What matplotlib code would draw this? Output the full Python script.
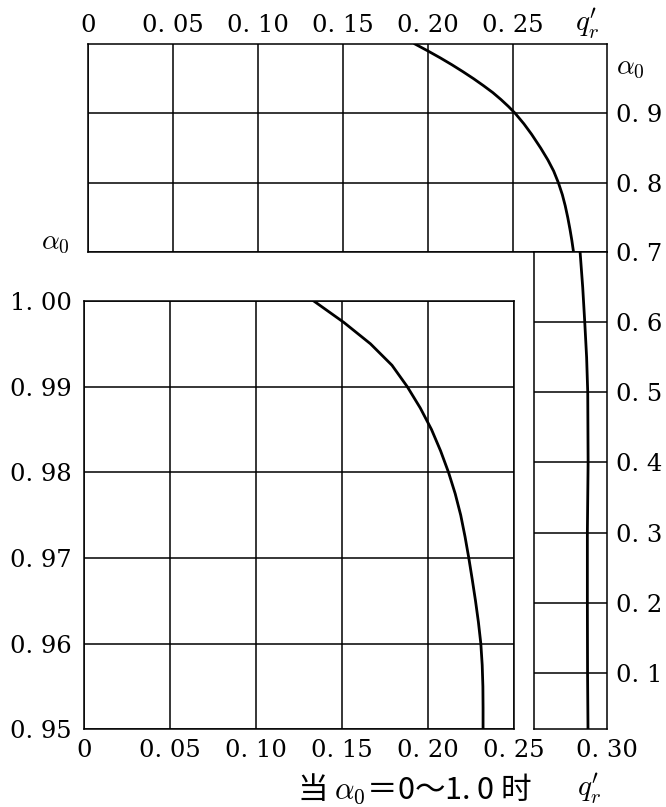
import matplotlib
matplotlib.use("Agg")
import matplotlib.pyplot as plt

plt.rcParams['font.family'] = ['DejaVu Serif', 'Liberation Serif']
plt.rcParams['mathtext.fontset'] = 'cm'

# ---------------- data ----------------
# top panel: alpha0 0.7..1.0
top_alpha = [1.000, 0.990, 0.980, 0.970, 0.960, 0.950, 0.940, 0.930, 0.920, 0.910,
             0.900, 0.885, 0.870, 0.850, 0.833, 0.817, 0.800, 0.783, 0.767, 0.750,
             0.733, 0.717, 0.700]
top_q = [0.1922, 0.1998, 0.2071, 0.2140, 0.2205, 0.2267, 0.2325, 0.2380, 0.2428, 0.2472,
         0.2512, 0.2563, 0.2608, 0.2662, 0.2704, 0.2738, 0.2766, 0.2789, 0.2806, 0.2821,
         0.2834, 0.2845, 0.2855]

# bottom-left panel: alpha0 0.95..1.00
bl_alpha = [1.0000, 0.9975, 0.9950, 0.9925, 0.9900, 0.9875, 0.9850, 0.9825, 0.9800,
            0.9775, 0.9750, 0.9725, 0.9700, 0.9675, 0.9650, 0.9625, 0.9600, 0.9575,
            0.9550, 0.9525, 0.9500]
bl_q = [0.1335, 0.1510, 0.1665, 0.1790, 0.1879, 0.1955, 0.2020, 0.2073, 0.2119,
        0.2158, 0.2190, 0.2215, 0.2237, 0.2257, 0.2276, 0.2293, 0.2307, 0.2315,
        0.2319, 0.2320, 0.2320]

# narrow right panel: alpha0 0..0.7
nr_alpha = [0.70, 0.65, 0.60, 0.55, 0.50, 0.40, 0.30, 0.20, 0.10, 0.00]
nr_q = [0.2857, 0.2871, 0.2882, 0.2892, 0.2898, 0.2900, 0.2896, 0.2896, 0.2897, 0.2900]

top_xticks = [0, 0.05, 0.10, 0.15, 0.20, 0.25]
top_xlabels = ['0', '0. 05', '0. 10', '0. 15', '0. 20', '0. 25']
top_yticks = [0.7, 0.8, 0.9]
top_ylabels = ['0. 7', '0. 8', '0. 9']

bl_xticks = [0, 0.05, 0.10, 0.15, 0.20, 0.25]
bl_xlabels = ['0', '0. 05', '0. 10', '0. 15', '0. 20', '0. 25']
bl_yticks = [0.95, 0.96, 0.97, 0.98, 0.99, 1.00]
bl_ylabels = ['0. 95', '0. 96', '0. 97', '0. 98', '0. 99', '1. 00']

nr_xticks = [0.30]
nr_xlabels = ['0. 30']
nr_yticks = [0.1, 0.2, 0.3, 0.4, 0.5, 0.6]
nr_ylabels = ['0. 1', '0. 2', '0. 3', '0. 4', '0. 5', '0. 6']

# ---------------- layout ----------------
W, H = 666, 807
fig = plt.figure(figsize=(W / 100, H / 100), dpi=100)


def rect(x0, y0, x1, y1):
    return [x0 / W, 1 - y1 / H, (x1 - x0) / W, (y1 - y0) / H]


LW = 1.1
CLW = 2.0
FS = 17.5


def style(ax):
    for s in ax.spines.values():
        s.set_linewidth(LW)
        s.set_color('black')
    ax.tick_params(length=0, labelsize=FS)


# top panel
ax_t = fig.add_axes(rect(88.3, 44, 606.7, 252.3))
style(ax_t)
ax_t.set_xlim(0, 0.305)
ax_t.set_ylim(0.7, 1.0)
ax_t.xaxis.tick_top()
ax_t.yaxis.tick_right()
ax_t.set_xticks(top_xticks)
ax_t.set_xticklabels(top_xlabels)
ax_t.set_yticks(top_yticks)
ax_t.set_yticklabels(top_ylabels, ha='left')
ax_t.tick_params(axis='x', pad=5)
ax_t.tick_params(axis='y', pad=7)
ax_t.grid(True, color='black', lw=LW)
ax_t.plot(top_q, top_alpha, color='black', lw=CLW)

# bottom-left panel
ax_b = fig.add_axes(rect(84.3, 301, 514, 729.3))
style(ax_b)
ax_b.set_xlim(0, 0.25)
ax_b.set_ylim(0.95, 1.00)
ax_b.set_xticks(bl_xticks)
ax_b.set_xticklabels(bl_xlabels)
ax_b.set_yticks(bl_yticks)
ax_b.set_yticklabels(bl_ylabels)
ax_b.tick_params(axis='x', pad=7)
ax_b.tick_params(axis='y', pad=9)
ax_b.grid(True, color='black', lw=LW)
ax_b.plot(bl_q, bl_alpha, color='black', lw=CLW)

# narrow right panel
ax_n = fig.add_axes(rect(534, 252.3, 606.7, 729.3))
style(ax_n)
ax_n.set_xlim(0.2609, 0.30)
ax_n.set_ylim(0.0192, 0.7)
ax_n.yaxis.tick_right()
ax_n.set_xticks(nr_xticks)
ax_n.set_xticklabels(nr_xlabels)
ax_n.set_yticks(nr_yticks)
ax_n.set_yticklabels(nr_ylabels, ha='left')
ax_n.tick_params(axis='x', pad=7)
ax_n.tick_params(axis='y', pad=7)
ax_n.grid(True, axis='y', color='black', lw=LW)
ax_n.plot(nr_q, nr_alpha, color='black', lw=CLW)

# extra labels
fig.text(55 / W, 1 - 243 / H, r'$\alpha_0$', ha='center', va='center', fontsize=20)
fig.text(630 / W, 1 - 68 / H, r'$\alpha_0$', ha='center', va='center', fontsize=20)
fig.text(587 / W, 1 - 24 / H, r"$q_r^{\prime}$", ha='center', va='center', fontsize=21)
fig.text(297 / W, 1 - 789 / H, '当 $\\alpha_0$＝0～1. 0 时', ha='left', va='center',
         fontsize=22, family=['Noto Sans CJK SC'])
fig.text(589 / W, 1 - 789 / H, r"$q_r^{\prime}$", ha='center', va='center', fontsize=21)

fig.savefig('out.png', dpi=100)
